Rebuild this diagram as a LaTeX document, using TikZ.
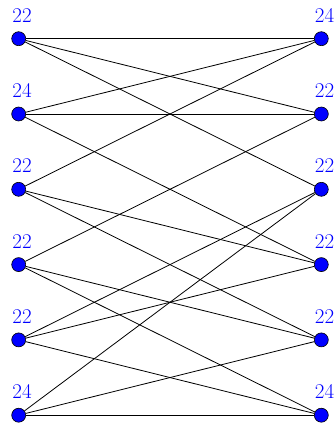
\documentclass[tikz,border=0pt]{standalone}
\usetikzlibrary{calc}
\begin{document}
\begin{tikzpicture}[x=1pt,y=-1pt,
  vtx/.style={circle,draw=black,fill=blue,line width=0.6pt,inner sep=0pt,minimum size=14pt},
  lbl/.style={text=blue,anchor=base,inner sep=0pt,font=\fontsize{21}{25}\selectfont},
  edge/.style={line width=0.8pt,black}]
\useasboundingbox (0,0) rectangle (336,426);
\foreach \i/\y in {1/38.7,2/114,3/189.3,4/264.6,5/339.9,6/415.2}{
  \node[vtx] (L\i) at (18.7,\y) {};
  \node[vtx] (R\i) at (321.3,\y) {};
}
\foreach \i/\a/\b in {1/22/24,2/24/22,3/22/22,4/22/22,5/22/22,6/24/24}{
  \node[lbl] (tl\i) at ($(L\i.center)+(3.3,-16.4)$) {\a};
  \node[lbl] (tr\i) at ($(R\i.center)+(3.3,-16.4)$) {\b};
}
\foreach \l/\r in {1/1,1/2,1/3,2/1,2/2,2/4,3/1,3/4,3/5,4/2,4/5,4/6,5/3,5/4,5/6,6/3,6/5,6/6}{
  \draw[edge] (L\l) -- (R\r);
}
\end{tikzpicture}
\end{document}
